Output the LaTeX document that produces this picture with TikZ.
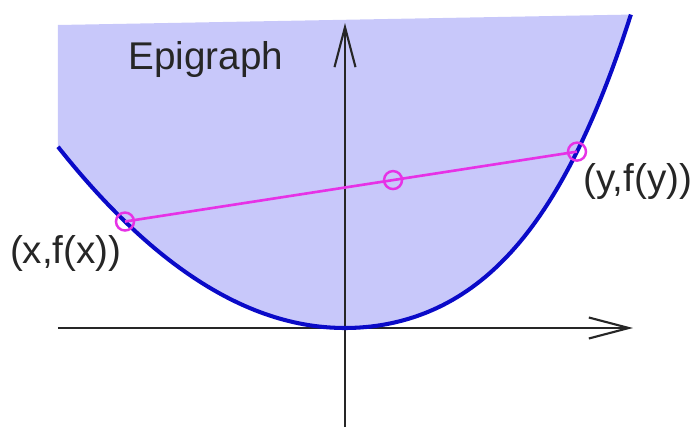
\documentclass[tikz,border=0pt]{standalone}
\usepackage{fontspec}
\setmainfont{Liberation Sans}
\usepackage{tikz}
\usetikzlibrary{arrows.meta,positioning,calc}
\definecolor{epiFill}{RGB}{200,200,250}
\definecolor{graphBlue}{RGB}{10,10,200}
\definecolor{chordPink}{RGB}{230,50,230}

\begin{document}
\begin{tikzpicture}[
  x=2cm, y=2cm,
  axisarr/.style={-{Straight Barb[length=0.8cm, width=0.42cm]}, line width=1.2pt, black!85},
  graphline/.style={line width=2.3pt, graphBlue},
  chordline/.style={line width=1.5pt, chordPink},
  ring/.style={draw=chordPink, circle, line width=1.4pt, minimum size=0.36cm, inner sep=0pt},
  lab/.style={font=\fontsize{22}{26}\selectfont, text=black!85, inner sep=0pt},
  declare function={f(\u)=0.22*\u*\u+0.02*pow(max(\u,0),4);}
]
  \useasboundingbox (-3.45,-0.99) rectangle (3.49,3.28);

  % epigraph region
  \fill[epiFill] plot[domain=-2.87:2.86, samples=120] (\x,{f(\x)})
    -- (-2.87,3.03) -- cycle;

  % axes
  \coordinate (xl) at (-2.87,0);
  \coordinate (xr) at (2.88,0);
  \coordinate (yb) at (0,-0.99);
  \coordinate (yt) at (0,3.05);
  \draw[axisarr] (xl) -- (xr);
  \draw[axisarr] (yb) -- (yt);

  % the function
  \draw[graphline] plot[domain=-2.87:2.86, samples=120] (\x,{f(\x)});

  % chord
  \coordinate (px) at (-2.2,{f(-2.2)});
  \coordinate (py) at (2.32,{f(2.32)});
  \coordinate (pm) at ($(px)!0.593!(py)$);
  \draw[chordline] (px) -- (py);
  \node[ring] (rx) at (px) {};
  \node[ring] (rm) at (pm) {};
  \node[ring] (ry) at (py) {};

  \node[lab, anchor=base west] (epi) at (-2.17,2.58) {Epigraph};
  \node[lab, below left=0.27cm and 0.06cm of px] (xlab) {(x,f(x))};
  \node[lab, below right=0.22cm and 0.12cm of py] (ylab) {(y,f(y))};
\end{tikzpicture}
\end{document}
